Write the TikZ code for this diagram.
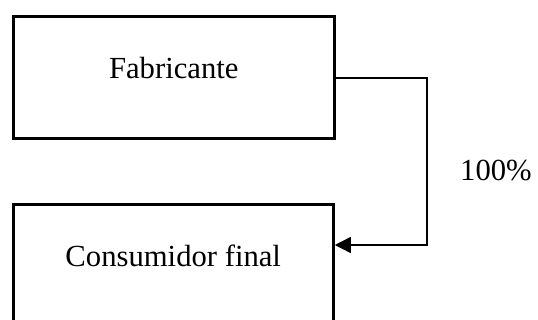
\documentclass[tikz,border=0pt]{standalone}
\usepackage{fontspec}
\setmainfont{Liberation Serif}
\usepackage{tikz}
\usetikzlibrary{arrows.meta,calc}

\tikzset{
caja/.style={draw, line width=2.25pt, rectangle, minimum width=241pt, minimum height=91.5pt, inner sep=0pt},
texto/.style={font=\fontsize{23}{27}\selectfont, inner sep=0pt},
flecha/.style={line width=1pt, -{Triangle[length=12pt,width=12pt]}}
}

\begin{document}
\begin{tikzpicture}[x=0.75pt,y=-0.75pt]
\useasboundingbox (0,0) rectangle (538,320);
\clip (0,0) rectangle (538,320);
\node[caja] (fab) at (173.75,78) {};
\node[texto] (fabtxt) at ($(fab.center)+(0,-10)$) {Fabricante};
\node[caja, minimum width=240pt] (cons) at (173.25,265.5) {};
\node[texto] (constxt) at ($(cons.center)+(0,-10)$) {Consumidor final};
\coordinate (codo) at (427,245);
\draw[flecha] (fab.east) -| (codo) -- (cons.east |- codo);
\node[texto] (pct) at (496,171) {100\%};
\end{tikzpicture}
\end{document}
